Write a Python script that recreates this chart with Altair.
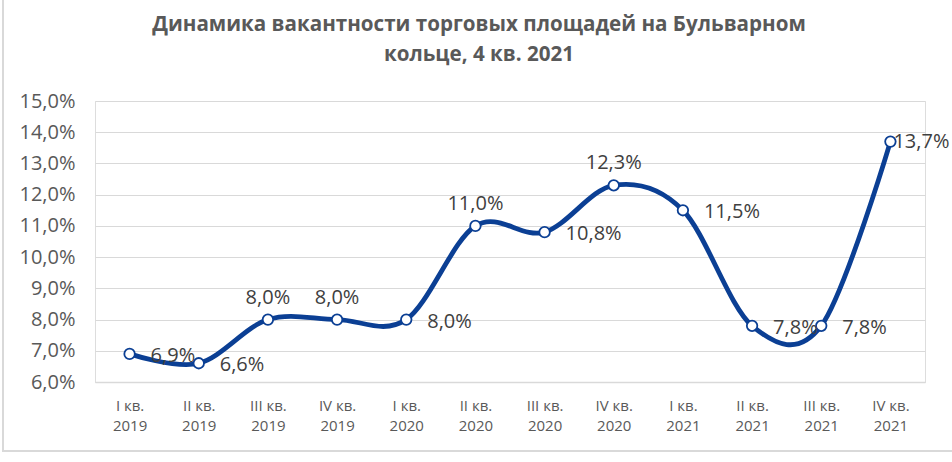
import altair as alt
import pandas as pd

quarters = ["I кв.", "II кв.", "III кв.", "IV кв.", "I кв.", "II кв.", "III кв.", "IV кв.",
            "I кв.", "II кв.", "III кв.", "IV кв."]
years = ["2019", "2019", "2019", "2019", "2020", "2020", "2020", "2020",
         "2021", "2021", "2021", "2021"]
vacancy = [6.9, 6.6, 8.0, 8.0, 8.0, 11.0, 10.8, 12.3, 11.5, 7.8, 7.8, 13.7]
label_place = ["right", "right", "above", "above", "right", "above", "right", "above",
               "right", "right", "right", "edge"]
title_lines = ["Динамика вакантности торговых площадей на Бульварном", "кольце, 4 кв. 2021"]

categories = [f"{q}\n{y}" for q, y in zip(quarters, years)]
df = pd.DataFrame({"cat": categories, "v": vacancy, "place": label_place})
df["lbl"] = df["v"].map(lambda v: f"{v:.1f}".replace(".", ",") + "%")

BLUE = "#0b3f94"
FONT = "Open Sans"

x = alt.X("cat:N", sort=categories, title=None,
          scale=alt.Scale(type="point", padding=0.5),
          axis=alt.Axis(labelAngle=0, labelExpr="split(datum.label, '\\n')",
                        labelFontSize=15, labelColor="#595959", labelFont=FONT,
                        labelLineHeight=20, labelPadding=16, ticks=False,
                        domainColor="#d9d9d9", domainWidth=1.5, grid=False))
y = alt.Y("v:Q", title=None,
          scale=alt.Scale(domain=[6, 15], nice=False, zero=False),
          axis=alt.Axis(values=list(range(6, 16)),
                        labelExpr="replace(format(datum.value, '.1f'), '.', ',') + '%'",
                        labelFontSize=20, labelColor="#595959", labelFont=FONT,
                        labelPadding=20, ticks=False, domain=False,
                        gridColor="#d9d9d9", gridWidth=1))

base = alt.Chart(df)

border = base.mark_rect(fill=None, stroke="#d9d9d9", strokeWidth=2).encode(
    x=alt.value(-92), x2=alt.value(900), y=alt.value(-150), y2=alt.value(350)
).transform_filter("datum.place == 'edge'")

title_df = pd.DataFrame({"t": title_lines})
title_common = dict(font=FONT, fontSize=20.6, fontWeight="bold", color="#595959",
                    align="center", baseline="middle")
title1 = alt.Chart(title_df).mark_text(**title_common).encode(
    x=alt.value(384), y=alt.value(-76), text="t:N"
).transform_filter(alt.datum.t == title_lines[0])
title2 = alt.Chart(title_df).mark_text(**title_common).encode(
    x=alt.value(384), y=alt.value(-46), text="t:N"
).transform_filter(alt.datum.t == title_lines[1])

line = base.mark_line(color=BLUE, strokeWidth=4.8, interpolate="cardinal").encode(x=x, y=y)
pts = base.mark_point(filled=True, fill="white", stroke=BLUE, strokeWidth=1.8,
                      size=110, opacity=1).encode(x=x, y=y)

txt_common = dict(font=FONT, fontSize=20, color="#404040", baseline="middle")
t_above = base.mark_text(align="center", dy=-22, **txt_common).encode(
    x=x, y=y, text="lbl:N").transform_filter("datum.place == 'above'")
t_right = base.mark_text(align="left", dx=21, dy=2, **txt_common).encode(
    x=x, y=y, text="lbl:N").transform_filter("datum.place == 'right'")
t_edge = base.mark_text(align="left", dx=3, dy=0, **txt_common).encode(
    x=x, y=y, text="lbl:N").transform_filter("datum.place == 'edge'")

chart = alt.layer(border, title1, title2, line, pts, t_above, t_right, t_edge).properties(
    width=830, height=281,
    autosize=alt.AutoSizeParams(type="none"),
    padding={"left": 95, "top": 101, "right": 27, "bottom": 80},
).configure_view(stroke=None).configure(background="white")

chart.save("out.html", embed_options={"renderer": "svg", "actions": False})
